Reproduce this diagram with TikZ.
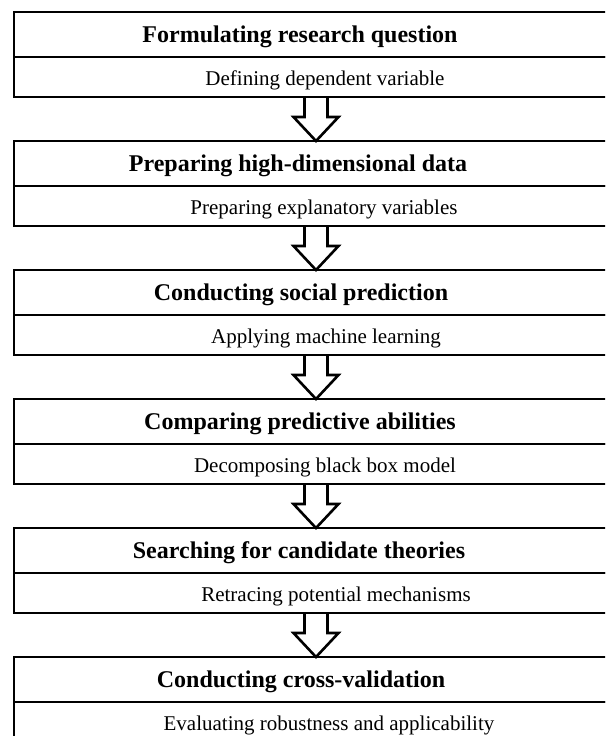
\documentclass[tikz,border=0pt]{standalone}
\usepackage{fontspec}
\setmainfont{Liberation Serif}
\usetikzlibrary{positioning}

\begin{document}
\begin{tikzpicture}[
  x=1pt,y=1pt,
  hbox/.style={draw,line width=2.6pt,minimum width=604pt,minimum height=45pt,inner sep=0pt,outer sep=0pt},
  sbox/.style={hbox,minimum height=40pt},
  htxt/.style={font={\fontsize{24}{28}\selectfont\bfseries},inner sep=0pt},
  stxt/.style={font={\fontsize{21}{25}\selectfont},inner sep=0pt},
  flow/.style={draw,line width=2.6pt}
]
\useasboundingbox (0,0) rectangle (605,-736);
\clip (0,0) rectangle (605,-736);
% stage boxes: bold header on top, sub-step below
\node[hbox,anchor=north west] (hb1) at (14,-12) {};
\node[sbox,below=0pt of hb1] (sb1) {};
\node[hbox,below=44pt of sb1] (hb2) {};
\node[sbox,below=0pt of hb2] (sb2) {};
\node[hbox,below=44pt of sb2] (hb3) {};
\node[sbox,below=0pt of hb3] (sb3) {};
\node[hbox,below=44pt of sb3] (hb4) {};
\node[sbox,below=0pt of hb4] (sb4) {};
\node[hbox,below=44pt of sb4] (hb5) {};
\node[sbox,below=0pt of hb5] (sb5) {};
\node[hbox,below=44pt of sb5] (hb6) {};
\node[sbox,below=0pt of hb6] (sb6) {};
% texts
\node[htxt] (ht1) at ([xshift=-16pt,yshift=-2pt]hb1.center) {Formulating research question};
\node[stxt] (st1) at ([xshift=9pt,yshift=-3pt]sb1.center) {Defining dependent variable};
\node[htxt] (ht2) at ([xshift=-18pt,yshift=-2pt]hb2.center) {Preparing high-dimensional data};
\node[stxt] (st2) at ([xshift=8pt,yshift=-3pt]sb2.center) {Preparing explanatory variables};
\node[htxt] (ht3) at ([xshift=-15pt,yshift=-2pt]hb3.center) {Conducting social prediction};
\node[stxt] (st3) at ([xshift=10pt,yshift=-3pt]sb3.center) {Applying machine learning};
\node[htxt] (ht4) at ([xshift=-16pt,yshift=-2pt]hb4.center) {Comparing predictive abilities};
\node[stxt] (st4) at ([xshift=9pt,yshift=-3pt]sb4.center) {Decomposing black box model};
\node[htxt] (ht5) at ([xshift=-17pt,yshift=-2pt]hb5.center) {Searching for candidate theories};
\node[stxt] (st5) at ([xshift=20pt,yshift=-3pt]sb5.center) {Retracing potential mechanisms};
\node[htxt] (ht6) at ([xshift=-15pt,yshift=-2pt]hb6.center) {Conducting cross-validation};
\node[stxt] (st6) at ([xshift=13pt,yshift=-3pt]sb6.center) {Evaluating robustness and applicability};
% hollow arrows between stages
\draw[flow] (sb1.south) ++(-11.5,0) -- ++(0,-20) -- ++(-11,0) -- (hb2.north) -- ++(22.5,24) -- ++(-11,0) -- ++(0,20);
\draw[flow] (sb2.south) ++(-11.5,0) -- ++(0,-20) -- ++(-11,0) -- (hb3.north) -- ++(22.5,24) -- ++(-11,0) -- ++(0,20);
\draw[flow] (sb3.south) ++(-11.5,0) -- ++(0,-20) -- ++(-11,0) -- (hb4.north) -- ++(22.5,24) -- ++(-11,0) -- ++(0,20);
\draw[flow] (sb4.south) ++(-11.5,0) -- ++(0,-20) -- ++(-11,0) -- (hb5.north) -- ++(22.5,24) -- ++(-11,0) -- ++(0,20);
\draw[flow] (sb5.south) ++(-11.5,0) -- ++(0,-20) -- ++(-11,0) -- (hb6.north) -- ++(22.5,24) -- ++(-11,0) -- ++(0,20);
\end{tikzpicture}
\end{document}
